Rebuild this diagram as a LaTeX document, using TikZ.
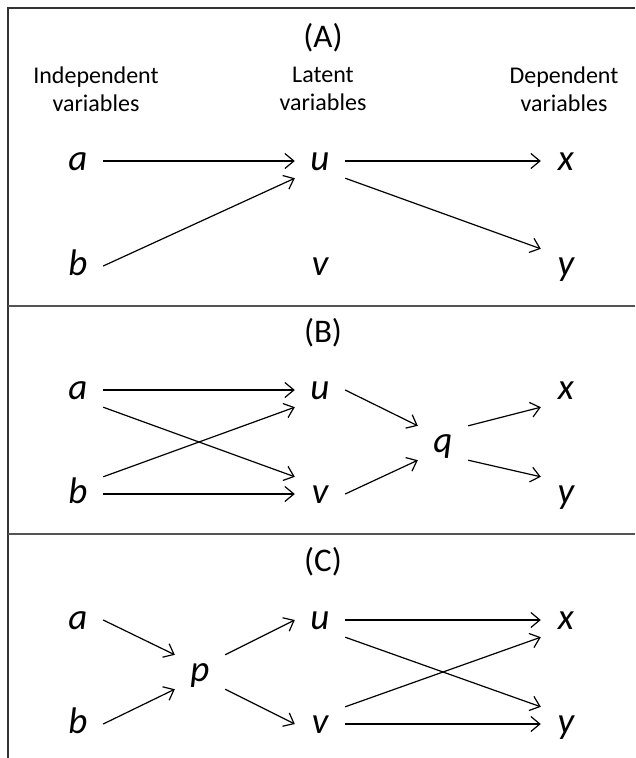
\documentclass[tikz,border=0pt]{standalone}
\usepackage{fontspec}
\setmainfont{Carlito}
\usetikzlibrary{arrows.meta}
\definecolor{framegray}{gray}{0.2}
\definecolor{sepgray}{gray}{0.33}

\begin{document}
\begin{tikzpicture}[x=1pt, y=-1pt,
    var/.style={font=\fontsize{37}{40}\selectfont\itshape, minimum width=50pt, minimum height=34pt,
      inner sep=0pt, text height=26pt, text depth=7pt},
    hd/.style={font=\fontsize{24}{28}\selectfont, align=center},
    ttl/.style={font=\fontsize{33}{36}\selectfont},
    arr/.style={-{Straight Barb[length=9pt,width=15pt]}, line width=1.2pt}]
        \useasboundingbox (0,0) rectangle (635,758);
        \draw[framegray, line width=2pt] (8,758) -- (8,8) -- (635,8);
        \draw[sepgray, line width=2pt] (8,306) -- (635,306);
        \draw[sepgray, line width=2pt] (8,534) -- (635,534);

        \node[ttl] (tA) at (323,38) {(A)};
        \node[hd] (hIn) at (96,89) {Independent\\variables};
        \node[hd] (hLa) at (323,89) {Latent\\variables};
        \node[hd] (hDe) at (564,89) {Dependent\\variables};
        \node[var] (aA) at (78,161) {a};
        \node[var] (bA) at (78,266) {b};
        \node[var] (uA) at (320,161) {u};
        \node[var] (vA) at (320,266) {v};
        \node[var] (xA) at (566,161) {x};
        \node[var] (yA) at (566,266) {y};
        \draw[arr] (aA.east) -- (uA.west);
        \draw[arr] (bA.east) -- (uA.south west);
        \draw[arr] (uA.east) -- (xA.west);
        \draw[arr] (uA.south east) -- (yA.north west);

        \node[ttl] (tB) at (323,333) {(B)};
        \node[var] (aB) at (78,390) {a};
        \node[var] (bB) at (78,494) {b};
        \node[var] (uB) at (320,390) {u};
        \node[var] (vB) at (320,494) {v};
        \node[var] (qB) at (443,443) {q};
        \node[var] (xB) at (566,390) {x};
        \node[var] (yB) at (566,494) {y};
        \draw[arr] (aB.east) -- (uB.west);
        \draw[arr] (aB.south east) -- (vB.north west);
        \draw[arr] (bB.north east) -- (uB.south west);
        \draw[arr] (bB.east) -- (vB.west);
        \draw[arr] (uB.east) -- (qB.north west);
        \draw[arr] (vB.east) -- (qB.south west);
        \draw[arr] (qB.north east) -- (xB.south west);
        \draw[arr] (qB.south east) -- (yB.north west);

        \node[ttl] (tC) at (323,562) {(C)};
        \node[var] (aC) at (78,620) {a};
        \node[var] (bC) at (78,724) {b};
        \node[var] (pC) at (200,672) {p};
        \node[var] (uC) at (320,620) {u};
        \node[var] (vC) at (320,724) {v};
        \node[var] (xC) at (566,620) {x};
        \node[var] (yC) at (566,724) {y};
        \draw[arr] (aC.east) -- (pC.north west);
        \draw[arr] (bC.east) -- (pC.south west);
        \draw[arr] (pC.north east) -- (uC.west);
        \draw[arr] (pC.south east) -- (vC.west);
        \draw[arr] (uC.east) -- (xC.west);
        \draw[arr] (uC.south east) -- (yC.north west);
        \draw[arr] (vC.north east) -- (xC.south west);
        \draw[arr] (vC.east) -- (yC.west);
\end{tikzpicture}
\end{document}
